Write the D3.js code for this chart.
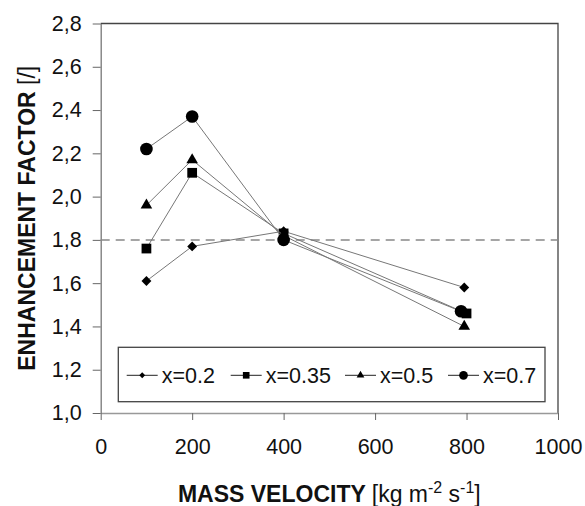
<!DOCTYPE html>
<html>
<head>
<meta charset="utf-8">
<script src="https://cdn.jsdelivr.net/npm/d3@7"></script>
<style>
  body { margin: 0; background: #fff; }
  text { font-family: "Liberation Sans", Arial, sans-serif; }
</style>
</head>
<body>
<div id="chart"></div>
<script>
// data
var seriesNames = ["x=0.2", "x=0.35", "x=0.5", "x=0.7"];
var massX02  = [100, 200, 400, 795];
var factor02 = [1.61, 1.77, 1.84, 1.58];
var massX035  = [100, 200, 400, 800];
var factor035 = [1.76, 2.11, 1.83, 1.46];
var massX05  = [100, 200, 400, 795];
var factor05 = [1.96, 2.17, 1.82, 1.40];
var massX07  = [100, 200, 400, 788];
var factor07 = [2.22, 2.37, 1.80, 1.47];
var xTicks = [0, 200, 400, 600, 800, 1000];
var yTicks = [1.0, 1.2, 1.4, 1.6, 1.8, 2.0, 2.2, 2.4, 2.6, 2.8];
var refLine = 1.8;

var W = 585, H = 506;
var margin = {top: 23.5, right: 27, bottom: 93, left: 100.7},
    width = W - margin.left - margin.right,
    height = H - margin.top - margin.bottom;

var svg = d3.select("#chart")
  .append("svg")
    .attr("width", W)
    .attr("height", H)
  .append("g")
    .attr("transform", "translate(" + margin.left + "," + margin.top + ")");

var x = d3.scaleLinear().domain([0, 1000]).range([0, width]);
var y = d3.scaleLinear().domain([1.0, 2.8]).range([height, 0]);

// frame top + right (dark)
svg.append("path")
  .attr("d", "M0,0H" + width + "V" + height)
  .attr("fill", "none").attr("stroke", "#444").attr("stroke-width", 1.3);

// x axis
var xAxis = svg.append("g")
  .attr("transform", "translate(0," + height + ")")
  .call(d3.axisBottom(x).tickValues(xTicks).tickSize(7).tickPadding(19).tickSizeOuter(0)
    .tickFormat(d3.format("d")));
xAxis.select(".domain").attr("stroke", "#999").attr("stroke-width", 1.5);
xAxis.selectAll(".tick line").attr("stroke", "#666");
xAxis.selectAll(".tick text").attr("font-size", 21.5).attr("fill", "#111")
  .attr("font-family", "Liberation Sans, Arial, sans-serif");

// y axis
var yAxis = svg.append("g")
  .call(d3.axisLeft(y).tickValues(yTicks).tickSize(8).tickPadding(11).tickSizeOuter(0)
    .tickFormat(function(d) { return d3.format(".1f")(d).replace(".", ","); }));
yAxis.select(".domain").attr("stroke", "#777").attr("stroke-width", 1.3);
yAxis.selectAll(".tick line").attr("stroke", "#666");
yAxis.selectAll(".tick text").attr("font-size", 21.5).attr("fill", "#111")
  .attr("font-family", "Liberation Sans, Arial, sans-serif");

// dashed reference line
svg.append("line")
  .attr("x1", 0).attr("x2", width)
  .attr("y1", y(refLine)).attr("y2", y(refLine))
  .attr("stroke", "#888").attr("stroke-width", 1.5)
  .attr("stroke-dasharray", "9,6");

var series = [
  {name: seriesNames[0], xs: massX02, ys: factor02, sym: d3.symbolDiamond2, size: 62, lsize: 22},
  {name: seriesNames[1], xs: massX035, ys: factor035, sym: d3.symbolSquare, size: 95, lsize: 44},
  {name: seriesNames[2], xs: massX05, ys: factor05, sym: d3.symbolTriangle, size: 58, lsize: 26},
  {name: seriesNames[3], xs: massX07, ys: factor07, sym: d3.symbolCircle, size: 125, lsize: 60}
];

var line = d3.line()
  .x(function(d) { return x(d[0]); })
  .y(function(d) { return y(d[1]); });

series.forEach(function(s) {
  var pts = s.xs.map(function(v, i) { return [v, s.ys[i]]; });
  svg.append("path")
    .datum(pts)
    .attr("d", line)
    .attr("fill", "none")
    .attr("stroke", "#777")
    .attr("stroke-width", 1);
  svg.selectAll(null)
    .data(pts)
    .enter().append("path")
    .attr("transform", function(d) { return "translate(" + x(d[0]) + "," + y(d[1]) + ")"; })
    .attr("d", d3.symbol().type(s.sym).size(s.size))
    .attr("fill", "#000");
});

// legend
var legend = svg.append("g").attr("transform", "translate(" + (118.3 - margin.left) + "," + (347.3 - margin.top) + ")");
legend.append("rect")
  .attr("width", 426.7).attr("height", 54.4)
  .attr("fill", "#fff").attr("stroke", "#444").attr("stroke-width", 1.3);
var legendX = [8.4, 112.4, 226.7, 329.7];
series.forEach(function(s, i) {
  var g = legend.append("g").attr("transform", "translate(" + legendX[i] + ",28)");
  g.append("line").attr("x1", 0).attr("x2", 31).attr("stroke", "#222").attr("stroke-width", 1);
  g.append("path").attr("transform", "translate(15.5,0)")
    .attr("d", d3.symbol().type(s.sym).size(s.lsize)).attr("fill", "#000");
  g.append("text").attr("x", 35).attr("y", 7.8)
    .attr("font-size", 21.5).attr("fill", "#111").text(s.name);
});

// axis titles
var xt = svg.append("text")
  .attr("x", width / 2).attr("y", 501.5 - margin.top)
  .attr("text-anchor", "middle").attr("fill", "#111").attr("font-size", 23);
xt.append("tspan").attr("font-weight", "bold").text("MASS VELOCITY ");
xt.append("tspan").text("[kg m");
xt.append("tspan").attr("font-size", 16).attr("dy", -9).text("-2");
xt.append("tspan").attr("dy", 9).text(" s");
xt.append("tspan").attr("font-size", 16).attr("dy", -9).text("-1");
xt.append("tspan").attr("dy", 9).text("]");

var yt = svg.append("text")
  .attr("transform", "translate(" + (35 - margin.left) + "," + (height / 2) + ") rotate(-90)")
  .attr("text-anchor", "middle").attr("fill", "#111").attr("font-size", 23);
yt.append("tspan").attr("font-weight", "bold").text("ENHANCEMENT FACTOR ");
yt.append("tspan").text("[/]");
</script>
</body>
</html>
